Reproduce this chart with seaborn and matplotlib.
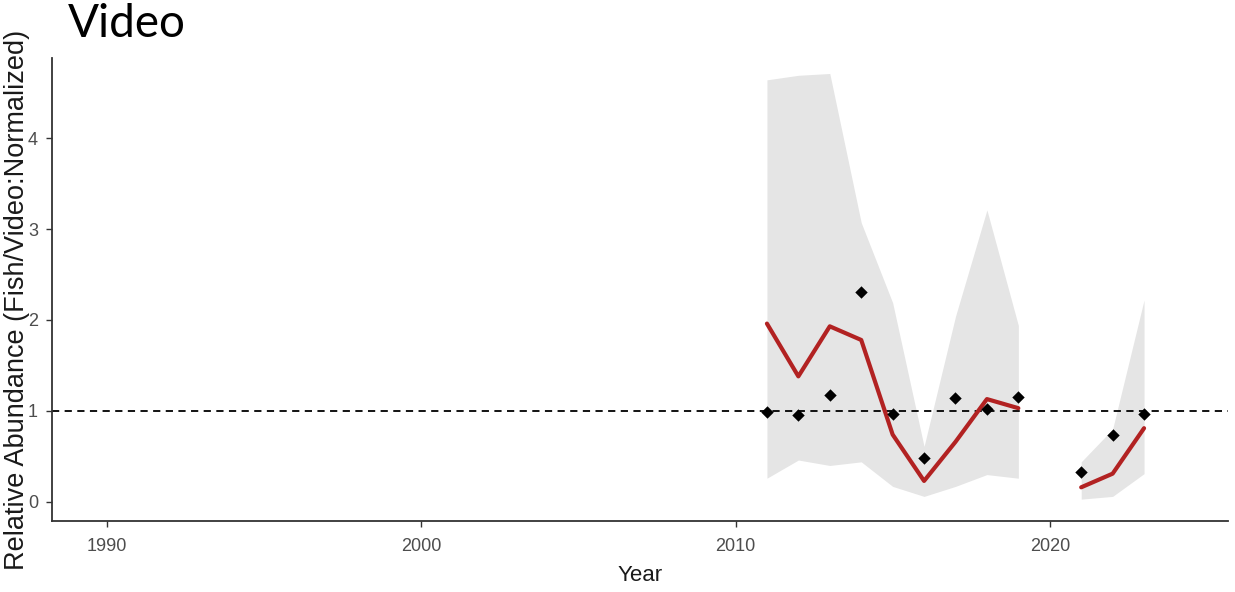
import numpy as np
import pandas as pd
import seaborn as sns
import matplotlib.pyplot as plt

sns.set_style("white")
plt.rcParams['font.family'] = ['Liberation Sans', 'DejaVu Sans']

# values
years = [2011, 2012, 2013, 2014, 2015, 2016, 2017, 2018, 2019, 2021, 2022, 2023]
period = ["a", "a", "a", "a", "a", "a", "a", "a", "a", "b", "b", "b"]
observed = [0.99, 0.96, 1.18, 2.31, 0.97, 0.48, 1.14, 1.02, 1.15, 0.33, 0.73, 0.97]
fitted = [1.96, 1.38, 1.93, 1.78, 0.74, 0.23, 0.66, 1.13, 1.03, 0.16, 0.31, 0.81]
upper = [4.64, 4.69, 4.71, 3.07, 2.19, 0.61, 2.04, 3.21, 1.94, 0.44, 0.80, 2.22]
lower = [0.26, 0.46, 0.40, 0.44, 0.17, 0.06, 0.17, 0.30, 0.26, 0.03, 0.06, 0.31]
x_ticks = [1990, 2000, 2010, 2020]
y_ticks = [0, 1, 2, 3, 4]

df = pd.DataFrame({"Year": years, "period": period, "obs": observed,
                   "fit": fitted, "upper": upper, "lower": lower})

fig = plt.figure(figsize=(12.35, 5.92), dpi=100)
ax = fig.add_axes([0.0421, 0.120, 0.9522, 0.782])

# confidence ribbon, one piece per survey period
for p, sub in df.groupby("period"):
    ax.fill_between(sub["Year"], sub["lower"], sub["upper"],
                    color="#e5e5e5", linewidth=0, zorder=1)

ax.axhline(1, color="black", linestyle=(0, (4, 3)), linewidth=1.3, zorder=2)

sns.lineplot(data=df, x="Year", y="fit", units="period", estimator=None,
             color="#b22222", linewidth=3, ax=ax, zorder=3)
sns.scatterplot(data=df, x="Year", y="obs", marker="D", color="black",
                s=40, edgecolor="black", linewidth=0, ax=ax, zorder=4)

ax.set_xlim(1988.25, 2025.67)
ax.set_ylim(-0.21, 4.88)
ax.set_xticks(x_ticks)
ax.set_yticks(y_ticks)
ax.tick_params(axis="both", length=4, width=1, color="#333333",
               labelcolor="#4d4d4d", labelsize=13, left=True, bottom=True)
ax.tick_params(axis="x", pad=8)
ax.tick_params(axis="y", pad=6)
for side in ["top", "right"]:
    ax.spines[side].set_visible(False)
for side in ["left", "bottom"]:
    ax.spines[side].set_color("#333333")
    ax.spines[side].set_linewidth(1.3)

ax.set_xlabel("Year", fontsize=16, color="#1a1a1a")
ax.xaxis.set_label_coords(0.5, -0.095)
ax.set_ylabel("Relative Abundance (Fish/Video:Normalized)", fontsize=19.5,
              color="#1a1a1a")
ax.yaxis.set_label_coords(-0.019, 0.477)

fig.text(68 / 1235, 1 - 37 / 592, "Video", fontsize=33,
         family=["Lato", "DejaVu Sans"], color="black")

fig.savefig("out.png", dpi=100)
